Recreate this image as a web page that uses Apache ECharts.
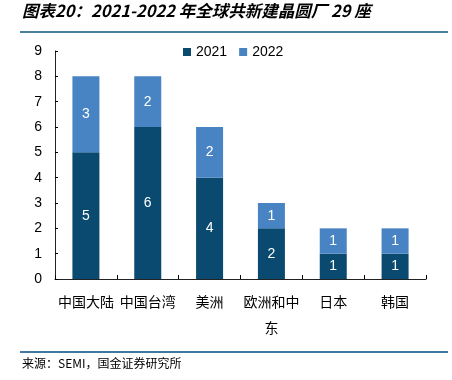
<!DOCTYPE html>
<html><head><meta charset="utf-8">
<script src="https://cdn.jsdelivr.net/npm/echarts@6/dist/echarts.min.js"></script>
<style>html,body{margin:0;padding:0;background:#fff}#c{width:452px;height:380px}</style>
</head><body><div id="c"></div>
<script>
const categories = ['中国大陆','中国台湾','美洲','欧洲和中\n东','日本','韩国'];
const values2021 = [5,6,4,2,1,1];
const values2022 = [3,2,2,1,1,1];
const yTicks = [0,9,1];
const chart = echarts.init(document.getElementById('c'));
chart.setOption({
  animation:false,
  backgroundColor:'#fff',
  graphic:[
    {type:'text',left:22,top:2,style:{text:'图表20：2021-2022 年全球共新建晶圆厂 29 座',font:'italic bold 16.5px "Noto Sans CJK SC"',fill:'#000'}},
    {type:'rect',shape:{x:20,y:31,width:428,height:2},style:{fill:'#4a7fa0'}},
    {type:'rect',shape:{x:20,y:351,width:428,height:2},style:{fill:'#3f78a0'}},
    {type:'text',left:22,top:357,style:{text:'来源：SEMI，国金证券研究所',font:'12px "Noto Sans CJK SC"',fill:'#000'}}
  ],
  legend:{top:40,left:178,itemWidth:8,itemHeight:8,itemGap:12,icon:'rect',textStyle:{fontSize:14,fontFamily:'Liberation Sans',color:'#000'},data:['2021','2022']},
  grid:{left:55,right:26,top:51,bottom:101},
  xAxis:{type:'category',data:categories,axisTick:{show:true,inside:true,length:4,lineStyle:{color:'#000'}},axisLine:{lineStyle:{color:'#222'}},
    axisLabel:{color:'#000',fontSize:14,fontFamily:'Noto Sans CJK SC',interval:0,margin:10,lineHeight:26}},
  yAxis:{type:'value',min:yTicks[0],max:yTicks[1],interval:yTicks[2],splitLine:{show:false},
    axisLine:{show:true,lineStyle:{color:'#222'}},axisTick:{show:true,inside:true,length:3,lineStyle:{color:'#000'}},
    axisLabel:{color:'#000',fontSize:14,fontFamily:'Liberation Sans',margin:13}},
  series:[
    {name:'2021',type:'bar',stack:'a',data:values2021,barWidth:27,itemStyle:{color:'#0a4a70'},
     label:{show:true,color:'#fff',fontSize:14,fontFamily:'Liberation Sans'}},
    {name:'2022',type:'bar',stack:'a',data:values2022,barWidth:27,itemStyle:{color:'#4884c3'},
     label:{show:true,color:'#fff',fontSize:14,fontFamily:'Liberation Sans'}}
  ]
});
</script></body></html>
